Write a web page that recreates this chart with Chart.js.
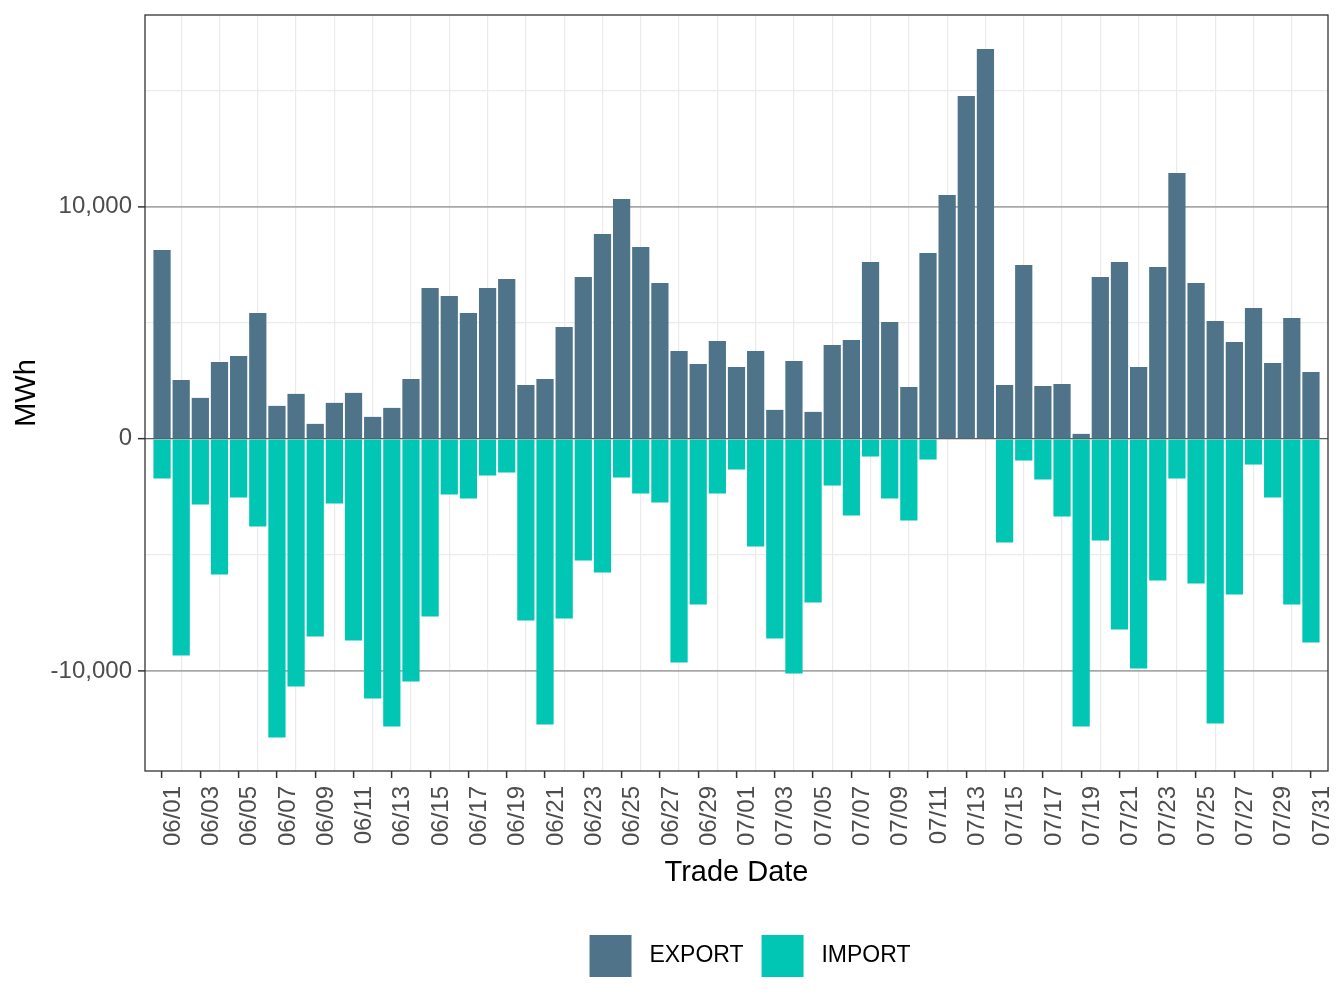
<!DOCTYPE html>
<html>
<head>
<meta charset="utf-8">
<title>EXPORT / IMPORT by trade date</title>
<script src="https://cdn.jsdelivr.net/npm/chart.js@4.4.1/dist/chart.umd.min.js"></script>
<style>
    html, body { margin: 0; padding: 0; background: #fff; }
    #wrap { width: 1344px; height: 1008px; position: relative; }
</style>
</head>
<body>
<div id="wrap"><canvas id="chart"></canvas></div>
<script>
/* daily export / import volumes, MWh */

const tradeDates = [
    "06/01","06/02","06/03","06/04","06/05","06/06","06/07","06/08","06/09","06/10",
    "06/11","06/12","06/13","06/14","06/15","06/16","06/17","06/18","06/19","06/20",
    "06/21","06/22","06/23","06/24","06/25","06/26","06/27","06/28","06/29","06/30",
    "07/01","07/02","07/03","07/04","07/05","07/06","07/07","07/08","07/09","07/10",
    "07/11","07/12","07/13","07/14","07/15","07/16","07/17","07/18","07/19","07/20",
    "07/21","07/22","07/23","07/24","07/25","07/26","07/27","07/28","07/29","07/30",
    "07/31"
];

const exportMWh = [
    8135, 2540, 1765, 3314, 3572, 5423, 1420, 1937, 646, 1550,
    1980, 947, 1334, 2582, 6499, 6155, 5423, 6499, 6887, 2324,
    2582, 4821, 6973, 8824, 10330, 8264, 6714, 3788, 3228, 4218,
    3099, 3788, 1248, 3357, 1162, 4046, 4261, 7618, 5036, 2238,
    8006, 10502, 14763, 16786, 2324, 7489, 2281, 2367, 215, 6973,
    7618, 3099, 7403, 11449, 6714, 5079, 4175, 5638, 3271, 5208,
    2884
];

const importMWh = [
    -1707, -9326, -2826, -5839, -2525, -3773, -12855, -10660, -8508, -2783,
    -8680, -11176, -12382, -10445, -7647, -2396, -2568, -1578, -1449, -7819,
    -12296, -7733, -5237, -5753, -1664, -2353, -2740, -9627, -7131, -2353,
    -1320, -4634, -8594, -10100, -7044, -2009, -3300, -760, -2568, -3515,
    -890, 0, 0, 0, -4462, -933, -1750, -3343, -12382, -4376,
    -8207, -9885, -6098, -1707, -6227, -12253, -6700, -1105, -2525, -7131,
    -8766
];

const yLabelTicks = [-10000, 0, 10000];
const yMinorTicks = [-5000, 5000, 15000];
const yRange = [-14300, 18250];
const xPad = 0.89;

const COLORS = { EXPORT: "#4f7489", IMPORT: "#00c6b3" };
const TEXT_GREY = "#4d4d4d";
const FONT = "'Liberation Sans', Arial, sans-serif";

function toPoints(values) {
    return values.map(function(v, i) { return { x: i, y: v }; });
}

const panelBorder = {
    id: "panelBorder",
    afterLayout: function(chart) {
        // ggplot puts the legend a little right of the canvas centre
        chart.legend.left += 86;
        chart.legend.right += 86;
    },
    afterDraw: function(chart) {
        const a = chart.chartArea;
        const ctx = chart.ctx;
        ctx.save();
        ctx.strokeStyle = "#333333";
        ctx.lineWidth = 1.3;
        ctx.strokeRect(a.left, a.top, a.right - a.left, a.bottom - a.top);
        ctx.restore();
    }
};

new Chart(document.getElementById("chart"), {
    type: "bar",
    data: {
        datasets: [
            {
                label: " EXPORT",
                data: toPoints(exportMWh),
                backgroundColor: COLORS.EXPORT,
                borderWidth: 0,
                categoryPercentage: 1,
                barPercentage: 0.9
            },
            {
                label: " IMPORT",
                data: toPoints(importMWh),
                backgroundColor: COLORS.IMPORT,
                borderWidth: 0,
                categoryPercentage: 1,
                barPercentage: 0.9
            }
        ]
    },
    options: {
        responsive: true,
        maintainAspectRatio: false,
        animation: false,
        layout: { padding: { top: 15, right: 16, bottom: 21, left: 0 } },
        scales: {
            x: {
                type: "linear",
                stacked: true,
                offset: false,
                min: -xPad,
                max: tradeDates.length - 1 + xPad,
                afterBuildTicks: function(scale) {
                    scale.ticks = tradeDates.map(function(d, i) { return { value: i }; });
                },
                afterFit: function(scale) {
                    scale.height = 146;
                    scale.paddingLeft = 0;
                    scale.paddingRight = 0;
                },
                border: { display: false },
                grid: {
                    offset: false,
                    color: function(ctx) {
                        return ctx.index % 2 === 1 ? "#ebebeb" : "rgba(0,0,0,0)";
                    },
                    lineWidth: 1.2,
                    tickColor: function(ctx) {
                        return ctx.index % 2 === 0 ? "#333333" : "rgba(0,0,0,0)";
                    },
                    tickLength: 7,
                    tickWidth: 1.5
                },
                ticks: {
                    autoSkip: false,
                    minRotation: 90,
                    maxRotation: 90,
                    padding: 8,
                    labelOffset: 11,
                    color: TEXT_GREY,
                    font: { family: FONT, size: 24 },
                    callback: function(value, index) {
                        return index % 2 === 0 ? tradeDates[index] : "";
                    }
                },
                title: {
                    display: true,
                    text: "Trade Date",
                    color: "#000",
                    font: { family: FONT, size: 29 },
                    padding: { top: 4, bottom: 27 }
                }
            },
            y: {
                stacked: true,
                min: yRange[0],
                max: yRange[1],
                afterBuildTicks: function(scale) {
                    scale.ticks = yLabelTicks.concat(yMinorTicks)
                        .sort(function(a, b) { return a - b; })
                        .map(function(v) { return { value: v }; });
                },
                afterFit: function(scale) {
                    scale.width = 145;
                    scale.paddingTop = 0;
                    scale.paddingBottom = 0;
                },
                border: { display: false },
                grid: {
                    color: function(ctx) {
                        const v = ctx.tick.value;
                        if (v === 0) return "#5c5c5c";
                        return yLabelTicks.indexOf(v) >= 0 ? "#a8a8a8" : "#ebebeb";
                    },
                    lineWidth: function(ctx) {
                        const v = ctx.tick.value;
                        if (v === 0) return 1.3;
                        return yLabelTicks.indexOf(v) >= 0 ? 1.8 : 1.2;
                    },
                    tickColor: function(ctx) {
                        return yLabelTicks.indexOf(ctx.tick.value) >= 0 ? "#333333" : "rgba(0,0,0,0)";
                    },
                    tickLength: 7,
                    tickWidth: 1.5
                },
                ticks: {
                    padding: 6,
                    color: TEXT_GREY,
                    font: { family: FONT, size: 24 },
                    callback: function(value) {
                        return yLabelTicks.indexOf(value) >= 0 ? value.toLocaleString("en-US") : "";
                    }
                },
                title: {
                    display: true,
                    text: "MWh",
                    color: "#000",
                    font: { family: FONT, size: 29 },
                    padding: { top: 10, bottom: 0 }
                }
            }
        },
        plugins: {
            tooltip: { enabled: false },
            legend: {
                position: "bottom",
                labels: {
                    boxWidth: 42,
                    boxHeight: 42,
                    padding: 18,
                    color: "#000",
                    font: { family: FONT, size: 23 }
                }
            }
        }
    },
    plugins: [panelBorder]
});
</script>
</body>
</html>
